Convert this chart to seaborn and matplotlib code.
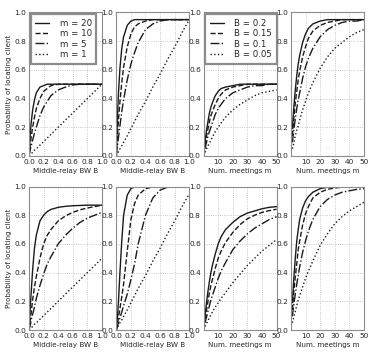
import matplotlib
matplotlib.use("Agg")
import matplotlib.pyplot as plt
import seaborn as sns

# x grids
B_GRID = [0, 0.01, 0.02, 0.03, 0.05, 0.075, 0.1, 0.15, 0.2, 0.25, 0.3, 0.4, 0.5, 0.6, 0.7, 0.8, 0.9, 1.0]
M_GRID = [1, 2, 3, 4, 5, 6, 8, 10, 12, 15, 20, 25, 30, 35, 40, 45, 50]

M_LABELS = ["m = 20", "m = 10", "m = 5", "m = 1"]
B_LABELS = ["B = 0.2", "B = 0.15", "B = 0.1", "B = 0.05"]

# top row, panel 1 (x = B)
p1_m20 = [0, 0.09, 0.17, 0.23, 0.32, 0.39, 0.44, 0.48, 0.49, 0.5, 0.5, 0.5, 0.5, 0.5, 0.5, 0.5, 0.5, 0.5]
p1_m10 = [0, 0.05, 0.09, 0.13, 0.2, 0.27, 0.33, 0.4, 0.45, 0.47, 0.49, 0.5, 0.5, 0.5, 0.5, 0.5, 0.5, 0.5]
p1_m5 = [0, 0.025, 0.05, 0.07, 0.11, 0.16, 0.2, 0.28, 0.34, 0.38, 0.42, 0.46, 0.48, 0.495, 0.5, 0.5, 0.5, 0.5]
p1_m1 = [0, 0.005, 0.01, 0.015, 0.025, 0.04, 0.05, 0.075, 0.1, 0.125, 0.15, 0.2, 0.25, 0.3, 0.35, 0.4, 0.45, 0.5]

# top row, panel 2 (x = B)
p2_m20 = [0, 0.17, 0.32, 0.44, 0.61, 0.75, 0.83, 0.91, 0.94, 0.95, 0.95, 0.95, 0.95, 0.95, 0.95, 0.95, 0.95, 0.95]
p2_m10 = [0, 0.09, 0.17, 0.25, 0.38, 0.51, 0.62, 0.76, 0.85, 0.9, 0.92, 0.94, 0.95, 0.95, 0.95, 0.95, 0.95, 0.95]
p2_m5 = [0, 0.05, 0.09, 0.13, 0.21, 0.31, 0.39, 0.53, 0.64, 0.72, 0.79, 0.88, 0.92, 0.94, 0.95, 0.95, 0.95, 0.95]
p2_m1 = [0, 0.01, 0.02, 0.03, 0.05, 0.07, 0.095, 0.14, 0.19, 0.24, 0.29, 0.38, 0.48, 0.57, 0.67, 0.76, 0.86, 0.95]

# top row, panel 3 (x = m)
p3_b20 = [0.1, 0.18, 0.24, 0.3, 0.34, 0.37, 0.42, 0.45, 0.47, 0.48, 0.49, 0.5, 0.5, 0.5, 0.5, 0.5, 0.5]
p3_b15 = [0.075, 0.14, 0.19, 0.24, 0.28, 0.31, 0.36, 0.4, 0.43, 0.46, 0.48, 0.49, 0.5, 0.5, 0.5, 0.5, 0.5]
p3_b10 = [0.05, 0.095, 0.14, 0.17, 0.2, 0.23, 0.29, 0.33, 0.36, 0.4, 0.44, 0.46, 0.48, 0.49, 0.49, 0.5, 0.5]
p3_b05 = [0.025, 0.05, 0.07, 0.09, 0.11, 0.13, 0.17, 0.2, 0.23, 0.27, 0.32, 0.36, 0.39, 0.42, 0.44, 0.45, 0.46]

# top row, panel 4 (x = m)
p4_b20 = [0.19, 0.34, 0.46, 0.56, 0.64, 0.7, 0.79, 0.85, 0.89, 0.92, 0.94, 0.95, 0.95, 0.95, 0.95, 0.95, 0.95]
p4_b15 = [0.14, 0.26, 0.37, 0.45, 0.53, 0.59, 0.69, 0.76, 0.82, 0.87, 0.91, 0.93, 0.94, 0.95, 0.95, 0.95, 0.95]
p4_b10 = [0.095, 0.18, 0.26, 0.33, 0.39, 0.44, 0.54, 0.62, 0.68, 0.75, 0.83, 0.88, 0.91, 0.93, 0.94, 0.94, 0.95]
p4_b05 = [0.05, 0.09, 0.14, 0.18, 0.21, 0.25, 0.32, 0.38, 0.44, 0.51, 0.61, 0.69, 0.75, 0.79, 0.83, 0.86, 0.88]

# bottom row, panel 5 (x = B)
p5_m20 = [0, 0.09, 0.18, 0.26, 0.42, 0.57, 0.66, 0.76, 0.8, 0.825, 0.84, 0.855, 0.862, 0.866, 0.868, 0.87, 0.87, 0.87]
p5_m10 = [0, 0.04, 0.08, 0.12, 0.21, 0.3, 0.37, 0.5, 0.6, 0.66, 0.7, 0.76, 0.795, 0.82, 0.838, 0.85, 0.86, 0.87]
p5_m5 = [0, 0.02, 0.04, 0.07, 0.11, 0.16, 0.22, 0.31, 0.39, 0.46, 0.51, 0.6, 0.66, 0.71, 0.75, 0.78, 0.8, 0.82]
p5_m1 = [0, 0.005, 0.01, 0.015, 0.025, 0.04, 0.05, 0.075, 0.1, 0.125, 0.15, 0.2, 0.25, 0.3, 0.35, 0.4, 0.45, 0.5]

# bottom row, panel 6 (x = B)
p6_m20 = [0, 0.06, 0.12, 0.2, 0.4, 0.62, 0.8, 0.94, 0.985, 0.997, 1.0, 1.0, 1.0, 1.0, 1.0, 1.0, 1.0, 1.0]
p6_m10 = [0, 0.03, 0.06, 0.09, 0.15, 0.23, 0.32, 0.55, 0.77, 0.88, 0.94, 0.985, 0.997, 1.0, 1.0, 1.0, 1.0, 1.0]
p6_m5 = [0, 0.017, 0.034, 0.05, 0.085, 0.125, 0.17, 0.25, 0.35, 0.46, 0.6, 0.8, 0.92, 0.975, 0.995, 1.0, 1.0, 1.0]
p6_m1 = [0, 0.01, 0.02, 0.03, 0.05, 0.07, 0.095, 0.14, 0.19, 0.24, 0.29, 0.38, 0.48, 0.57, 0.67, 0.76, 0.86, 0.95]

# bottom row, panel 7 (x = m)
p7_b20 = [0.1, 0.19, 0.27, 0.34, 0.4, 0.45, 0.53, 0.6, 0.65, 0.7, 0.75, 0.79, 0.815, 0.83, 0.845, 0.855, 0.86]
p7_b15 = [0.075, 0.14, 0.2, 0.26, 0.31, 0.35, 0.43, 0.5, 0.55, 0.61, 0.68, 0.735, 0.775, 0.8, 0.82, 0.832, 0.842]
p7_b10 = [0.05, 0.09, 0.13, 0.17, 0.21, 0.24, 0.3, 0.36, 0.41, 0.47, 0.56, 0.62, 0.67, 0.71, 0.74, 0.77, 0.79]
p7_b05 = [0.025, 0.045, 0.065, 0.085, 0.105, 0.125, 0.16, 0.19, 0.22, 0.26, 0.33, 0.39, 0.45, 0.5, 0.55, 0.59, 0.63]

# bottom row, panel 8 (x = m)
p8_b20 = [0.19, 0.36, 0.5, 0.62, 0.7, 0.77, 0.85, 0.9, 0.93, 0.96, 0.985, 0.995, 1.0, 1.0, 1.0, 1.0, 1.0]
p8_b15 = [0.14, 0.27, 0.37, 0.46, 0.56, 0.62, 0.73, 0.81, 0.86, 0.92, 0.96, 0.98, 0.99, 0.995, 1.0, 1.0, 1.0]
p8_b10 = [0.095, 0.18, 0.25, 0.32, 0.38, 0.44, 0.54, 0.62, 0.69, 0.77, 0.86, 0.91, 0.94, 0.96, 0.97, 0.98, 0.985]
p8_b05 = [0.05, 0.09, 0.13, 0.17, 0.21, 0.24, 0.3, 0.36, 0.41, 0.48, 0.59, 0.67, 0.74, 0.79, 0.83, 0.86, 0.89]

LINESTYLES = ["-", "--", "-.", ":"]
LINE_COLOR = "#1a1a1a"
FRAME_COLOR = "#8c8c8c"

sns.set_style("whitegrid", {
    "grid.color": "#b8b8b8",
    "grid.linestyle": ":",
    "axes.edgecolor": FRAME_COLOR,
    "axes.linewidth": 1.6,
})
plt.rcParams["font.family"] = ["DejaVu Sans"]

panels = [
    (B_GRID, [p1_m20, p1_m10, p1_m5, p1_m1], "B", M_LABELS),
    (B_GRID, [p2_m20, p2_m10, p2_m5, p2_m1], "B", None),
    (M_GRID, [p3_b20, p3_b15, p3_b10, p3_b05], "m", B_LABELS),
    (M_GRID, [p4_b20, p4_b15, p4_b10, p4_b05], "m", None),
    (B_GRID, [p5_m20, p5_m10, p5_m5, p5_m1], "B", None),
    (B_GRID, [p6_m20, p6_m10, p6_m5, p6_m1], "B", None),
    (M_GRID, [p7_b20, p7_b15, p7_b10, p7_b05], "m", None),
    (M_GRID, [p8_b20, p8_b15, p8_b10, p8_b05], "m", None),
]

fig, axes = plt.subplots(2, 4, figsize=(3.74, 3.56), dpi=100)
fig.subplots_adjust(left=0.0775, right=0.973, top=0.965, bottom=0.073, wspace=0.196, hspace=0.213)
axes = axes.ravel()

for i, (xs, series, kind, labels) in enumerate(panels):
    ax = axes[i]
    for j, ys in enumerate(series):
        sns.lineplot(x=xs, y=ys, ax=ax, color=LINE_COLOR, linestyle=LINESTYLES[j],
                     linewidth=1.0, label=labels[j] if labels else None)

    ax.set_ylim(0, 1)
    ax.set_yticks([0, 0.2, 0.4, 0.6, 0.8, 1.0])
    if kind == "B":
        ax.set_xlim(0, 1)
        ax.set_xticks([0, 0.2, 0.4, 0.6, 0.8, 1.0])
        ax.set_xlabel("Middle-relay BW B", fontsize=5.1, labelpad=2)
    else:
        ax.set_xlim(0, 50)
        ax.set_xticks([10, 20, 30, 40, 50])
        ax.set_xlabel("Num. meetings m", fontsize=5.1, labelpad=2)

    if i % 4 == 0:
        ax.set_ylabel("Probability of locating client", fontsize=5.1, labelpad=2)
    else:
        ax.set_ylabel("")

    ax.grid(True, linewidth=0.6)
    ax.tick_params(labelsize=5.3, pad=2, length=2.5, direction="in", color=FRAME_COLOR)

    if labels:
        leg = ax.legend(loc="upper left", fontsize=6.2, frameon=True, fancybox=False,
                        borderpad=0.55, labelspacing=0.15, handlelength=1.6,
                        handletextpad=1.2, borderaxespad=0.2)
        leg.get_frame().set_edgecolor(FRAME_COLOR)
        leg.get_frame().set_linewidth(1.6)
        leg.get_frame().set_alpha(1)
    elif ax.get_legend() is not None:
        ax.get_legend().remove()

fig.savefig("out.png", dpi=100)
